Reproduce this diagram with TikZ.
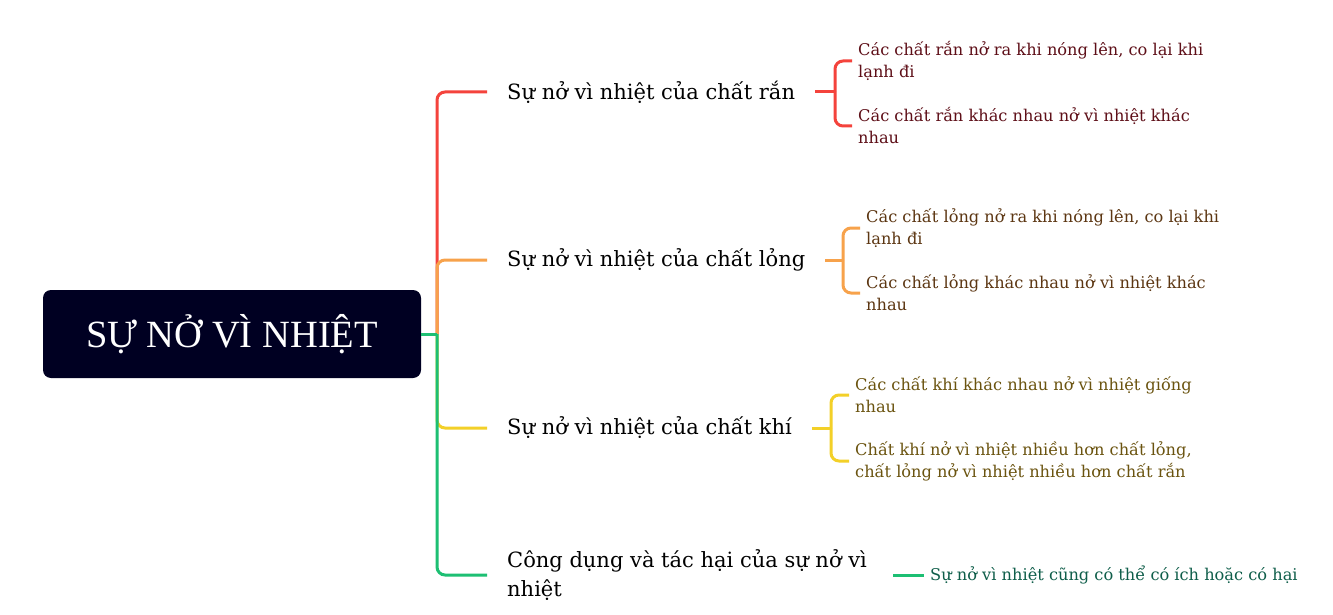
\documentclass[tikz,border=0pt]{standalone}
\usepackage{fontspec}
\setmainfont{DejaVu Serif}
\newfontfamily\rootfont{Liberation Serif}
\definecolor{cRed}{HTML}{F4433C}
\definecolor{cOrange}{HTML}{F7A24B}
\definecolor{cYellow}{HTML}{F3D028}
\definecolor{cGreen}{HTML}{1DBF73}
\definecolor{tRed}{HTML}{5E0F18}
\definecolor{tOrange}{HTML}{5C3612}
\definecolor{tYellow}{HTML}{6B5410}
\definecolor{tGreen}{HTML}{0F5E4A}
\definecolor{rootFill}{HTML}{000022}
\begin{document}
\begin{tikzpicture}[x=1pt,y=-1pt,
  rootbox/.style={fill=rootFill, rounded corners=8pt, minimum width=378pt, minimum height=88pt, text=white, font=\rootfont\fontsize{38.5}{42}\selectfont, inner sep=0pt},
  branch/.style={anchor=west, inner xsep=20pt, inner ysep=2pt, align=left, font=\fontsize{21}{29}\selectfont, text=black},
  leaf/.style={anchor=west, inner xsep=6pt, inner ysep=1pt, align=left, font=\fontsize{16.2}{22}\selectfont},
  link/.style={line width=3pt, rounded corners=8pt},
  brk/.style={line width=3pt, rounded corners=8pt}
]
\useasboundingbox (0,0) rectangle (1333,615);
\fill[white] (0,0) rectangle (1333,615);

% root
\node[rootbox] (root) at (232,334) {SỰ NỞ VÌ NHIỆT};
\coordinate (trunk) at (437,334);

% branches
\node[branch] (b1) at (487,92) {Sự nở vì nhiệt của chất rắn};
\node[branch] (b2) at (487,260) {Sự nở vì nhiệt của chất lỏng};
\node[branch] (b3) at (487,428) {Sự nở vì nhiệt của chất khí};
\node[branch] (b4) at (487,575) {Công dụng và tác hại của sự nở vì\\nhiệt};

% branch links
\draw[link, cRed] (trunk) |- (b1.west);
\draw[link, cYellow] (trunk) |- (b3.west);
\draw[link, cOrange] (trunk) |- (b2.west);
\draw[link, cGreen] (trunk) |- (b4.west);
\draw[line width=3pt, cGreen] (root.east) -- (trunk);

% leaves
\node[leaf, text=tRed] (l11) at (852,61) {Các chất rắn nở ra khi nóng lên, co lại khi\\lạnh đi};
\node[leaf, text=tRed] (l12) at (852,126) {Các chất rắn khác nhau nở vì nhiệt khác\\nhau};
\node[leaf, text=tOrange] (l21) at (860,228) {Các chất lỏng nở ra khi nóng lên, co lại khi\\lạnh đi};
\node[leaf, text=tOrange] (l22) at (860,293) {Các chất lỏng khác nhau nở vì nhiệt khác\\nhau};
\node[leaf, text=tYellow] (l31) at (849,395) {Các chất khí khác nhau nở vì nhiệt giống\\nhau};
\node[leaf, text=tYellow] (l32) at (849,461) {Chất khí nở vì nhiệt nhiều hơn chất lỏng,\\chất lỏng nở vì nhiệt nhiều hơn chất rắn};
\node[leaf, text=tGreen] (l4) at (924,575) {Sự nở vì nhiệt cũng có thể có ích hoặc có hại};

% brackets
\coordinate (j1) at (835,92);
\coordinate (j2) at (843,260);
\coordinate (j3) at (831,428);
\draw[line width=3pt, cRed] (b1.east) -- (j1);
\draw[brk, cRed] (j1) |- (l11.west);
\draw[brk, cRed] (j1) |- (l12.west);
\draw[line width=3pt, cOrange] (b2.east) -- (j2);
\draw[brk, cOrange] (j2) |- (l21.west);
\draw[brk, cOrange] (j2) |- (l22.west);
\draw[line width=3pt, cYellow] (b3.east) -- (j3);
\draw[brk, cYellow] (j3) |- (l31.west);
\draw[brk, cYellow] (j3) |- (l32.west);
\draw[line width=3pt, cGreen] ([xshift=6pt]b4.east) -- (l4.west);
\end{tikzpicture}
\end{document}
